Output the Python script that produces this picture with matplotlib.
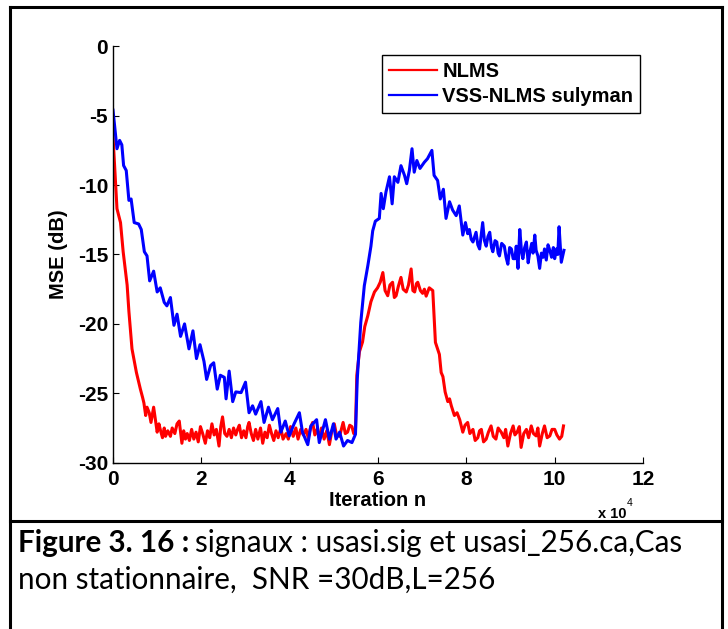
import matplotlib
matplotlib.use("Agg")
import matplotlib.pyplot as plt
from matplotlib.lines import Line2D

# iteration axis is in units of 1e4
nlms_x = [0, 0.09, 0.17, 0.23, 0.32, 0.36, 0.43, 0.53, 0.62, 0.67,
          0.70, 0.74, 0.77, 0.82, 0.86, 0.92, 1.00, 1.04, 1.07, 1.12,
          1.16, 1.19, 1.24, 1.30, 1.34, 1.40, 1.45, 1.50, 1.56, 1.60,
          1.64, 1.68, 1.73, 1.78, 1.83, 1.88, 1.93, 1.98, 2.03, 2.09,
          2.14, 2.19, 2.24, 2.29, 2.34, 2.40, 2.44, 2.48, 2.53, 2.58,
          2.63, 2.68, 2.73, 2.78, 2.82, 2.86, 2.91, 2.96, 3.01, 3.05,
          3.08, 3.13, 3.18, 3.23, 3.28, 3.34, 3.39, 3.44, 3.49, 3.54,
          3.59, 3.64, 3.69, 3.74, 3.80, 3.85, 3.92, 3.97, 4.02, 4.08,
          4.14, 4.19, 4.25, 4.31, 4.37, 4.42, 4.47, 4.52, 4.57, 4.62,
          4.67, 4.72, 4.78, 4.84, 4.90, 4.95, 5.01, 5.06, 5.13, 5.17,
          5.21, 5.26, 5.31, 5.36, 5.41, 5.45, 5.49, 5.52, 5.58, 5.65,
          5.70, 5.77, 5.84, 5.92, 5.99, 6.05, 6.11, 6.16, 6.22, 6.27,
          6.33, 6.37, 6.41, 6.46, 6.52, 6.57, 6.64, 6.69, 6.75, 6.79,
          6.83, 6.87, 6.90, 6.96, 7.01, 7.05, 7.09, 7.16, 7.24, 7.30,
          7.35, 7.39, 7.43, 7.47, 7.52, 7.58, 7.62, 7.66, 7.73, 7.79,
          7.85, 7.92, 7.97, 8.03, 8.08, 8.15, 8.20, 8.26, 8.30, 8.34,
          8.39, 8.45, 8.50, 8.56, 8.61, 8.67, 8.72, 8.79, 8.85, 8.89,
          8.94, 9.00, 9.06, 9.10, 9.15, 9.20, 9.24, 9.30, 9.36, 9.41,
          9.47, 9.52, 9.58, 9.62, 9.66, 9.72, 9.77, 9.83, 9.89, 9.94,
          10.0, 10.05, 10.11, 10.16, 10.2]
nlms_mse = [-6.5, -11.7, -12.7, -14.8, -17.2, -19.1, -21.8, -23.5, -24.7, -25.3,
            -25.7, -26.6, -26.0, -26.4, -27.1, -26.0, -27.8, -27.2, -27.6, -28.2,
            -27.5, -28.1, -27.7, -28.1, -27.5, -27.9, -27.2, -27.0, -28.6, -27.7,
            -28.3, -27.9, -28.4, -27.6, -28.3, -27.8, -28.5, -27.4, -27.9, -28.6,
            -27.7, -28.2, -27.2, -28.0, -27.6, -28.8, -27.4, -26.7, -27.9, -28.1,
            -27.6, -28.2, -27.5, -28.0, -27.6, -27.3, -28.2, -27.7, -28.2, -27.4,
            -27.1, -27.9, -28.4, -27.6, -28.3, -27.5, -28.6, -27.8, -28.2, -27.3,
            -27.9, -28.4, -27.7, -28.2, -27.5, -28.3, -27.9, -28.3, -27.4, -28.1,
            -27.5, -28.3, -27.6, -28.0, -27.6, -28.2, -27.5, -27.1, -28.0, -27.6,
            -28.2, -27.5, -28.3, -27.7, -28.7, -27.8, -27.2, -28.0, -28.1, -27.6,
            -27.1, -27.9, -27.8, -27.3, -27.4, -27.9, -27.6, -23.7, -22.0, -21.3,
            -20.2, -19.4, -18.4, -17.7, -17.4, -17.0, -16.3, -17.6, -17.97, -17.2,
            -17.0, -18.1, -17.97, -17.3, -16.65, -17.5, -17.7, -17.2, -16.04, -17.6,
            -17.7, -17.1, -17.0, -17.6, -17.8, -17.5, -18.0, -17.4, -17.6, -21.33,
            -21.8, -22.2, -23.5, -23.8, -24.9, -25.6, -25.4, -25.9, -26.6, -26.4,
            -26.9, -27.8, -27.3, -27.1, -27.9, -27.6, -28.4, -28.2, -27.7, -27.6,
            -28.5, -28.3, -27.8, -27.35, -28.1, -28.3, -27.5, -27.8, -28.2, -27.6,
            -28.8, -27.9, -27.35, -28.0, -27.8, -27.4, -28.9, -27.9, -27.6, -28.2,
            -27.35, -27.9, -28.07, -27.5, -28.8, -27.9, -27.35, -28.2, -28.07, -27.6,
            -27.6, -28.0, -28.3, -28.1, -27.35]

vss_x = [0, 0.09, 0.15, 0.20, 0.24, 0.30, 0.36, 0.41, 0.48, 0.58,
         0.64, 0.71, 0.77, 0.83, 0.92, 1.00, 1.07, 1.16, 1.22, 1.30,
         1.38, 1.45, 1.53, 1.62, 1.72, 1.81, 1.89, 1.97, 2.06, 2.12,
         2.21, 2.28, 2.36, 2.43, 2.52, 2.56, 2.63, 2.71, 2.78, 2.90,
         3.00, 3.08, 3.16, 3.23, 3.35, 3.42, 3.52, 3.61, 3.73, 3.80,
         3.90, 3.99, 4.10, 4.22, 4.29, 4.41, 4.48, 4.61, 4.67, 4.81,
         4.90, 4.99, 5.05, 5.13, 5.22, 5.31, 5.41, 5.49, 5.53, 5.61,
         5.69, 5.77, 5.84, 5.88, 5.94, 6.03, 6.07, 6.12, 6.18, 6.26,
         6.32, 6.37, 6.45, 6.52, 6.60, 6.65, 6.71, 6.77, 6.82, 6.88,
         6.95, 7.05, 7.12, 7.22, 7.27, 7.35, 7.41, 7.48, 7.54, 7.62,
         7.69, 7.77, 7.84, 7.92, 7.98, 8.03, 8.07, 8.11, 8.15, 8.22,
         8.26, 8.30, 8.37, 8.41, 8.45, 8.49, 8.53, 8.57, 8.60, 8.65,
         8.69, 8.72, 8.75, 8.80, 8.86, 8.90, 8.94, 8.98, 9.02, 9.06,
         9.10, 9.13, 9.17, 9.21, 9.25, 9.28, 9.32, 9.36, 9.40, 9.43,
         9.48, 9.51, 9.55, 9.58, 9.62, 9.66, 9.70, 9.74, 9.77, 9.81,
         9.85, 9.89, 9.93, 9.97, 10.0, 10.04, 10.07, 10.1, 10.15, 10.21]
vss_mse = [-4.6, -7.38, -6.78, -7.1, -8.59, -8.95, -11.1, -11.0, -12.7, -12.8,
           -13.2, -14.8, -15.1, -16.9, -16.2, -17.7, -17.4, -18.45, -18.7, -18.1,
           -20.1, -19.3, -20.9, -20.0, -21.8, -20.5, -22.5, -21.5, -22.7, -24.0,
           -23.0, -22.8, -24.7, -23.7, -23.85, -25.4, -23.4, -25.6, -24.9, -24.95,
           -24.2, -26.4, -25.9, -26.5, -25.6, -27.1, -26.0, -26.9, -26.1, -27.8,
           -27.0, -28.07, -27.2, -26.4, -27.8, -28.7, -27.35, -26.9, -28.55, -26.9,
           -28.3, -27.2, -28.3, -27.8, -28.8, -28.4, -28.55, -27.95, -24.0, -19.9,
           -17.25, -15.8, -14.4, -13.3, -12.6, -12.4, -10.6, -11.7, -10.5, -9.4,
           -11.35, -9.4, -9.8, -8.6, -9.3, -9.9, -8.95, -7.38, -9.07, -8.23,
           -8.8, -8.35, -8.1, -7.5, -9.3, -9.67, -11.0, -10.3, -12.4, -11.2,
           -11.8, -12.2, -11.5, -13.6, -12.7, -13.5, -13.2, -13.9, -14.1, -13.4,
           -14.3, -14.6, -12.7, -14.0, -14.4, -13.7, -13.4, -14.5, -14.8, -14.0,
           -14.1, -14.9, -15.1, -14.2, -14.4, -15.2, -15.7, -14.5, -14.6, -15.3,
           -15.3, -14.4, -16.0, -13.2, -14.8, -15.3, -14.5, -14.1, -15.6, -14.96,
           -14.2, -14.9, -13.6, -14.7, -15.1, -16.0, -14.9, -15.2, -14.6, -15.4,
           -14.3, -14.7, -15.2, -14.5, -15.3, -14.6, -15.0, -13.0, -15.56, -14.7]

labels = ["NLMS", "VSS-NLMS sulyman"]
xticks = [0, 2, 4, 6, 8, 10, 12]
yticks = [-30, -25, -20, -15, -10, -5, 0]

plt.rcParams["font.family"] = ["Liberation Sans", "DejaVu Sans"]
plt.rcParams["axes.unicode_minus"] = False

W, H = 728, 629
fig = plt.figure(figsize=(W / 100, H / 100), dpi=100)
ax = fig.add_axes([113 / W, 1 - 462.7 / H, 530 / W, 416.4 / H])

ax.plot(nlms_x, nlms_mse, color="#ff0000", lw=2.2, label=labels[0])
ax.plot(vss_x, vss_mse, color="#0000ff", lw=2.2, label=labels[1])

ax.set_xlim(0, 12)
ax.set_ylim(-30, 0)
ax.set_xticks(xticks)
ax.set_yticks(yticks)
for s in ["top", "right"]:
    ax.spines[s].set_visible(False)
for s in ["left", "bottom"]:
    ax.spines[s].set_linewidth(1.0)
ax.tick_params(direction="in", length=4, width=0.8, labelsize=15)
ax.tick_params(axis="x", pad=5)
ax.tick_params(axis="y", pad=3.5)
for t in ax.get_xticklabels() + ax.get_yticklabels():
    t.set_fontweight("bold")

ax.set_xlabel("Iteration n", fontsize=14.5, fontweight="bold")
ax.set_ylabel("MSE (dB)", fontsize=14.5, fontweight="bold")
ax.xaxis.set_label_coords(0.5, -0.068)
ax.yaxis.set_label_coords(-0.085, 0.5)

fig.text(598 / W, 1 - 518 / H, "x 10", fontsize=10.5, fontweight="bold", va="baseline")
fig.text(627 / W, 1 - 506 / H, "4", fontsize=7.5, va="baseline")

leg = ax.legend(loc="upper left", bbox_to_anchor=(382 / W, 1 - 55 / H),
                bbox_transform=fig.transFigure, borderaxespad=0, fancybox=False,
                edgecolor="black", framealpha=1, handlelength=2.4, handletextpad=0.25,
                labelspacing=0.3, borderpad=0.35, prop={"size": 14.5, "weight": "bold"})
leg.get_frame().set_linewidth(1.0)
for ln in leg.get_lines():
    ln.set_linewidth(1.6)

# table borders around the figure and caption
bw = 2.2
fig.add_artist(Line2D([10 / W, 10 / W], [0, 1 - 7 / H], color="black", lw=bw))
fig.add_artist(Line2D([722 / W, 722 / W], [0, 1 - 7 / H], color="black", lw=bw))
fig.add_artist(Line2D([10 / W, 722 / W], [1 - 7 / H, 1 - 7 / H], color="black", lw=bw))
fig.add_artist(Line2D([10 / W, 722 / W], [1 - 521 / H, 1 - 521 / H], color="black", lw=bw))

cap_font = ["Lato", "DejaVu Sans"]
cap_size = 21.3
t1 = fig.text(18 / W, 1 - 552 / H, "Figure 3. 16 :", fontsize=cap_size, fontweight="bold",
              family=cap_font, va="baseline")
renderer = fig.canvas.get_renderer()
bb = t1.get_window_extent(renderer)
fig.text(bb.x1 / W + 6 / W, 1 - 552 / H, "signaux : usasi.sig et usasi_256.ca,Cas",
         fontsize=cap_size, family=cap_font, va="baseline")
fig.text(18 / W, 1 - 589 / H, "non stationnaire,  SNR =30dB,L=256", fontsize=cap_size,
         family=cap_font, va="baseline")

fig.savefig("out.png", dpi=100)
